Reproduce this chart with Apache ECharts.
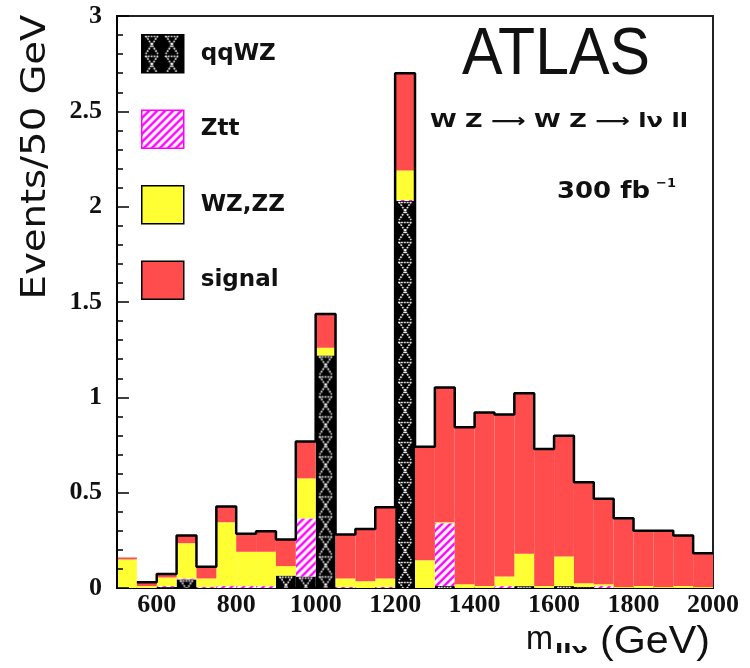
<!DOCTYPE html>
<html><head><meta charset="utf-8">
<script src="https://cdn.jsdelivr.net/npm/echarts@6/dist/echarts.min.js"></script>
<style>html,body{margin:0;padding:0;background:#fff}#c{width:750px;height:668px}</style>
</head><body><div id="c"></div>
<script>
// ---- data (50 GeV bins from 500 to 2000 GeV) ----
const binStart = 500;
const binWidth = 50;
const qqWZ   = [0,0,0.005,0.045,0,0,0,0,0.065,0.06,1.22,0,0,0,2.03,0,0.01,0,0,0,0.01,0,0.01,0.005,0,0,0,0,0,0];
const Ztt    = [0,0,0.005,0.005,0.005,0.01,0.01,0.01,0,0.305,0,0.005,0,0.005,0.005,0,0.33,0,0,0.01,0,0,0,0,0.01,0,0,0,0,0];
const WZZZ   = [0.15,0.01,0.045,0.185,0.045,0.335,0.18,0.18,0.05,0.21,0.04,0.045,0.035,0.045,0.155,0.145,0.005,0.02,0.01,0.05,0.17,0.01,0.155,0.02,0.01,0.005,0.01,0.005,0.01,0.005];
const signal = [0.01,0.02,0.018,0.04,0.062,0.083,0.095,0.108,0.14,0.193,0.177,0.23,0.275,0.373,0.51,0.596,0.707,0.823,0.911,0.85,0.841,0.719,0.634,0.529,0.448,0.361,0.29,0.295,0.265,0.177];
const seriesNames = ['qqWZ','Ztt','WZ,ZZ','signal'];
const xTickLabels = [600,800,1000,1200,1400,1600,1800,2000];

// ---- patterns ----
function qqPattern(){
  const c=document.createElement('canvas'); c.width=20; c.height=20;
  const g=c.getContext('2d');
  g.fillStyle='#000'; g.fillRect(0,0,20,20);
  g.strokeStyle='#fff'; g.lineWidth=1.6; g.setLineDash([1.8,1.1]);
  g.beginPath();
  g.moveTo(4,1); g.lineTo(16,19); g.moveTo(16,1); g.lineTo(4,19);
  g.moveTo(3,1.5); g.lineTo(17,1.5);
  g.stroke();
  return c;
}
function zttPattern(){
  const c=document.createElement('canvas'); c.width=8; c.height=8;
  const g=c.getContext('2d');
  g.fillStyle='#fff'; g.fillRect(0,0,8,8);
  g.strokeStyle='#ff00ff'; g.lineWidth=2.4;
  g.beginPath();
  g.moveTo(-1,9); g.lineTo(9,-1);
  g.moveTo(-5,5); g.lineTo(5,-5);
  g.moveTo(3,13); g.lineTo(13,3);
  g.stroke();
  return c;
}
const qqImg = qqPattern();
const zttImg = zttPattern();
const RED = '#ff4d4d', YEL = '#ffff33';

// text width helper (for stretching labels to the reference widths)
const mctx = document.createElement('canvas').getContext('2d');
function tw(text, font){ mctx.font = font; return mctx.measureText(text).width; }
function fitText(text, font, x, y, width, opts){
  const s = width / tw(text, font);
  return Object.assign({type:'text', x:x, y:y, scaleX:s, z:20,
    style:{text:text, font:font, fill:'#111', textAlign:'left', textVerticalAlign:'middle'}}, opts||{});
}

const comps = [qqWZ, Ztt, WZZZ, signal];
const fills = [
  (x,y)=>({image: qqImg, repeat:'repeat', x:x, y:y}),
  (x,y)=>({image: zttImg, repeat:'repeat', x:x, y:y}),
  ()=>YEL,
  ()=>RED
];
const legendFills = [{image: qqImg, repeat:'repeat'}, {image: zttImg, repeat:'repeat'}, YEL, RED];
const legendBorders = ['#000','#ff00ff','#000','#000'];

const n = qqWZ.length;
const cum = new Array(n).fill(0);
const series = [];
comps.forEach((arr, k) => {
  const data = [];
  for (let i=0;i<n;i++){
    const lo = binStart + i*binWidth;
    data.push([lo, lo+binWidth, cum[i], cum[i]+arr[i]]);
    cum[i] += arr[i];
  }
  series.push({
    type:'custom', name: seriesNames[k], z:2,
    itemStyle:{color: legendFills[k], borderColor: legendBorders[k], borderWidth:1.5},
    encode:{x:[0,1], y:[2,3]},
    renderItem: function(params, api){
      const x0=api.value(0), x1=api.value(1), b=api.value(2), t=api.value(3);
      if (t-b <= 0) return null;
      const p0=api.coord([x0,t]), p1=api.coord([x1,b]);
      return {type:'rect', shape:{x:p0[0], y:p0[1], width:p1[0]-p0[0], height:p1[1]-p0[1]},
              style:{fill: fills[k](p0[0], p0[1])}};
    },
    data: data
  });
});
// outline of total
const outline = [];
for (let i=1;i<n;i++) outline.push([binStart+i*binWidth, cum[i]]);
outline.push([binStart+n*binWidth, cum[n-1]]);
series.push({type:'line', step:'end', data: outline, symbol:'none', z:3, silent:true,
  lineStyle:{color:'#000', width:2.5}, legendHoverLink:false});

const chart = echarts.init(document.getElementById('c'), null, {renderer:'canvas'});
chart.setOption({
  animation:false,
  backgroundColor:'#fff',
  grid:{left:117, top:16, width:596, height:572, show:true, borderColor:'#222', borderWidth:2, backgroundColor:'#fff'},
  xAxis:{type:'value', min:500, max:2000, interval:100,
    axisLine:{show:true, lineStyle:{color:'#000', width:2}},
    axisTick:{show:false}, splitLine:{show:false},
    axisLabel:{margin:4, fontFamily:'Liberation Serif', fontWeight:'bold', fontSize:26, color:'#111',
      formatter: v => xTickLabels.indexOf(v) >= 0 ? String(v) : ''}
  },
  yAxis:{type:'value', min:0, max:3, interval:0.5, z:10,
    axisLine:{show:true, lineStyle:{color:'#000', width:2}},
    axisTick:{show:true, inside:true, length:12, lineStyle:{color:'#000', width:1.5}},
    minorTick:{show:true, splitNumber:5, length:6, lineStyle:{color:'#000', width:1.5}},
    splitLine:{show:false},
    axisLabel:{margin:15, fontFamily:'Liberation Serif', fontWeight:'bold', fontSize:26, color:'#111'}
  },
  legend:{orient:'vertical', left:141, top:34, padding:0, itemWidth:42, itemHeight:38, itemGap:36,
    icon:'rect', selectedMode:false,
    data: seriesNames.map((nm,k)=>({name:nm, icon:'rect', itemStyle:{color:legendFills[k], borderColor:legendBorders[k], borderWidth:1.5}})),
    textStyle:{fontFamily:'DejaVu Sans', fontWeight:'bold', fontSize:23, color:'#111', padding:[0,0,0,12]}
  },
  graphic:[
    fitText('ATLAS', '67px "Liberation Sans"', 462, 56, 188, {}),
    fitText('W Z \u27f6 W Z \u27f6 l\u03bd ll', 'bold 19px "DejaVu Sans"', 430, 122, 258),
    fitText('300 fb', 'bold 23px "DejaVu Sans"', 557, 192, 93),
    {type:'text', x:656, y:184, z:20,
      style:{text:'\u22121', font:'bold 13px "DejaVu Sans"', fill:'#111', textAlign:'left', textVerticalAlign:'middle'}},
    {type:'text', x:36, y:157, rotation:Math.PI/2, z:20,
      scaleX: 285 / tw('Events/50 GeV', '33px "DejaVu Sans"'),
      style:{text:'Events/50 GeV', font:'33px "DejaVu Sans"', fill:'#111', textAlign:'center', textVerticalAlign:'middle'}},
    fitText('m', '34px "Liberation Sans"', 526, 640, 27),
    fitText('ll\u03bd', 'bold 13px "DejaVu Sans"', 555, 650, 33),
    fitText('(GeV)', '38px "Liberation Sans"', 600, 643, 110)
  ],
  series: series
});
</script></body></html>
